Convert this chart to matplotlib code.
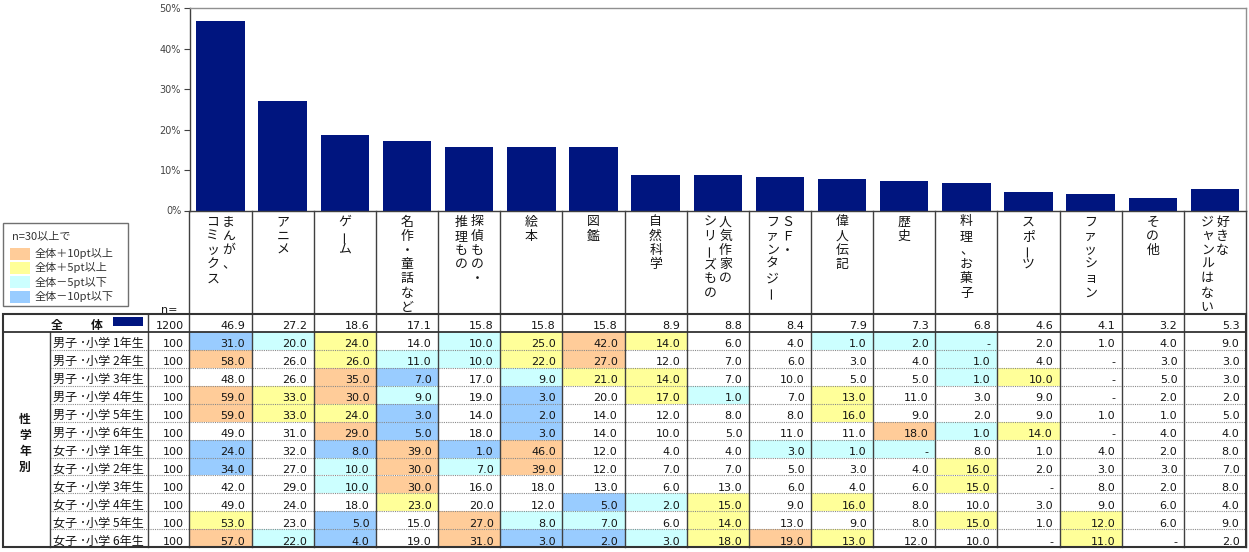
import matplotlib.pyplot as plt
from matplotlib.patches import Rectangle
import numpy as np

plt.rcParams['font.family'] = ['Noto Sans CJK JP', 'DejaVu Sans']

# genre headers, written vertically; first line is the rightmost one
genres = [['まんが、', 'コミックス'], ['アニメ'], ['ゲーム'], ['名作・童話など'],
          ['探偵もの・', '推理もの'], ['絵本'], ['図鑑'], ['自然科学'],
          ['人気作家の', 'シリーズもの'], ['ＳＦ・', 'ファンタジー'], ['偉人伝記'],
          ['歴史'], ['料理、お菓子'], ['スポーツ'], ['ファッション'], ['その他'],
          ['好きな', 'ジャンルはない']]

total = [46.9, 27.2, 18.6, 17.1, 15.8, 15.8, 15.8, 8.9, 8.8, 8.4, 7.9, 7.3, 6.8, 4.6, 4.1, 3.2, 5.3]
n_total = 1200

group_labels = ['男子 ･小学 1年生', '男子 ･小学 2年生', '男子 ･小学 3年生', '男子 ･小学 4年生',
                '男子 ･小学 5年生', '男子 ･小学 6年生', '女子 ･小学 1年生', '女子 ･小学 2年生',
                '女子 ･小学 3年生', '女子 ･小学 4年生', '女子 ･小学 5年生', '女子 ･小学 6年生']
group_n = [100, 100, 100, 100, 100, 100, 100, 100, 100, 100, 100, 100]

# None = "-"
boys1 = [31.0, 20.0, 24.0, 14.0, 10.0, 25.0, 42.0, 14.0, 6.0, 4.0, 1.0, 2.0, None, 2.0, 1.0, 4.0, 9.0]
boys2 = [58.0, 26.0, 26.0, 11.0, 10.0, 22.0, 27.0, 12.0, 7.0, 6.0, 3.0, 4.0, 1.0, 4.0, None, 3.0, 3.0]
boys3 = [48.0, 26.0, 35.0, 7.0, 17.0, 9.0, 21.0, 14.0, 7.0, 10.0, 5.0, 5.0, 1.0, 10.0, None, 5.0, 3.0]
boys4 = [59.0, 33.0, 30.0, 9.0, 19.0, 3.0, 20.0, 17.0, 1.0, 7.0, 13.0, 11.0, 3.0, 9.0, None, 2.0, 2.0]
boys5 = [59.0, 33.0, 24.0, 3.0, 14.0, 2.0, 14.0, 12.0, 8.0, 8.0, 16.0, 9.0, 2.0, 9.0, 1.0, 1.0, 5.0]
boys6 = [49.0, 31.0, 29.0, 5.0, 18.0, 3.0, 14.0, 10.0, 5.0, 11.0, 11.0, 18.0, 1.0, 14.0, None, 4.0, 4.0]
girls1 = [24.0, 32.0, 8.0, 39.0, 1.0, 46.0, 12.0, 4.0, 4.0, 3.0, 1.0, None, 8.0, 1.0, 4.0, 2.0, 8.0]
girls2 = [34.0, 27.0, 10.0, 30.0, 7.0, 39.0, 12.0, 7.0, 7.0, 5.0, 3.0, 4.0, 16.0, 2.0, 3.0, 3.0, 7.0]
girls3 = [42.0, 29.0, 10.0, 30.0, 16.0, 18.0, 13.0, 6.0, 13.0, 6.0, 4.0, 6.0, 15.0, None, 8.0, 2.0, 8.0]
girls4 = [49.0, 24.0, 18.0, 23.0, 20.0, 12.0, 5.0, 2.0, 15.0, 9.0, 16.0, 8.0, 10.0, 3.0, 9.0, 6.0, 4.0]
girls5 = [53.0, 23.0, 5.0, 15.0, 27.0, 8.0, 7.0, 6.0, 14.0, 13.0, 9.0, 8.0, 15.0, 1.0, 12.0, 6.0, 9.0]
girls6 = [57.0, 22.0, 4.0, 19.0, 31.0, 3.0, 2.0, 3.0, 18.0, 19.0, 13.0, 12.0, 10.0, None, 11.0, None, 2.0]
rows = [boys1, boys2, boys3, boys4, boys5, boys6, girls1, girls2, girls3, girls4, girls5, girls6]

legend_labels = ['全体＋10pt以上', '全体＋5pt以上', '全体－5pt以下', '全体－10pt以下']
legend_colors = ['#FFCC99', '#FFFF99', '#CCFFFF', '#99CCFF']
bar_color = '#00157F'
line_color = '#404040'
text_color = '#151515'
num_font = 'DejaVu Sans'

W, H = 1249, 552


def cell_color(v, base, n):
    if n < 30:
        return None
    d = round((v or 0.0) - base, 1)
    if d >= 10:
        return legend_colors[0]
    if d >= 5:
        return legend_colors[1]
    if d <= -10:
        return legend_colors[3]
    if d <= -5:
        return legend_colors[2]
    return None


fig = plt.figure(figsize=(W / 100, H / 100), dpi=100)
tab = fig.add_axes([0, 0, 1, 1], zorder=0)
tab.set_xlim(0, W)
tab.set_ylim(H, 0)
tab.axis('off')

# bar chart
x_left, x_right = 189.5, 1246
y_top, y_base = 8.3, 210.5
ax = fig.add_axes([x_left / W, (H - y_base) / H, (x_right - x_left) / W, (y_base - y_top) / H], zorder=1)
ax.bar(np.arange(len(total)), total, width=0.78, color=bar_color)
ax.set_xlim(-0.5, len(total) - 0.5)
ax.set_ylim(0, 50)
ax.set_yticks(range(0, 51, 10))
ax.set_yticklabels([f'{t}%' for t in range(0, 51, 10)], fontsize=7, color='#444444',
                   family='DejaVu Sans')
ax.tick_params(axis='y', length=4, width=0.8, color=line_color, pad=2)
ax.set_xticks([])
ax.set_facecolor('none')
for s in ['left', 'bottom']:
    ax.spines[s].set_color(line_color)
    ax.spines[s].set_linewidth(1.0)
for s in ['top', 'right']:
    ax.spines[s].set_color('#909090')
    ax.spines[s].set_linewidth(1.0)

# table geometry
x_edges = np.linspace(x_left, x_right, len(total) + 1)
tot_top, tot_bot = 314.0, 331.9
row_h = 17.95
row_tops = [tot_bot + i * row_h for i in range(len(rows))]
table_bot = tot_bot + len(rows) * row_h

# header with vertical text
for j, lines in enumerate(genres):
    cx = (x_edges[j] + x_edges[j + 1]) / 2
    nl = len(lines)
    for i, line in enumerate(lines):
        x = cx + (nl - 1) / 2 * 15.5 - i * 15.5
        for k, ch in enumerate(line):
            rot = 90 if ch == 'ー' else 0
            tab.text(x, 222 + k * 14.2, ch, ha='center', va='center', fontsize=9.3,
                     rotation=rot, color=text_color)

tab.text(161, 313, 'n=', fontsize=8, ha='left', va='baseline', color=text_color, family=num_font)

# total row
tab.text(57, tot_bot - 2.5, '全', fontsize=8.5, ha='center', va='baseline', color=text_color, weight='bold')
tab.text(97, tot_bot - 2.5, '体', fontsize=8.5, ha='center', va='baseline', color=text_color, weight='bold')
tab.add_patch(Rectangle((113, 316.7), 30, 9.5, facecolor=bar_color, edgecolor='none'))
tab.text(x_left - 6, tot_bot - 2.5, str(n_total), fontsize=8, ha='right', va='baseline',
         color=text_color, family=num_font)
for j, v in enumerate(total):
    tab.text(x_edges[j + 1] - 6.5, tot_bot - 2.5, f'{v:.1f}', fontsize=8, ha='right',
             va='baseline', color=text_color, family=num_font)

# group rows
for i, (lab, n, vals) in enumerate(zip(group_labels, group_n, rows)):
    top = row_tops[i]
    bot = top + row_h
    tab.text(53, bot - 2.5, lab, fontsize=8.7, ha='left', va='baseline', color=text_color)
    tab.text(x_left - 6, bot - 2.5, str(n), fontsize=8, ha='right', va='baseline',
             color=text_color, family=num_font)
    for j, v in enumerate(vals):
        c = cell_color(v, total[j], n)
        if c:
            tab.add_patch(Rectangle((x_edges[j], top), x_edges[j + 1] - x_edges[j], row_h,
                                    facecolor=c, edgecolor='none', zorder=0.5))
        s = '-' if v is None else f'{v:.1f}'
        tab.text(x_edges[j + 1] - 6.5, bot - 2.5, s, fontsize=8, ha='right', va='baseline',
                 color=text_color, family=num_font)
    if i < len(rows) - 1:
        tab.plot([50, x_right], [bot, bot], ls=(0, (1, 1)), color='#8a8a8a', lw=0.8)

# row group label
for k, ch in enumerate('性学年別'):
    tab.text(25, 419 + k * 16, ch, fontsize=8.5, ha='center', va='center', color=text_color,
             weight='bold')

# grid lines
for xe in x_edges[1:-1]:
    tab.plot([xe, xe], [y_base, table_bot], color=line_color, lw=1.0)
tab.plot([x_left, x_left], [y_base, table_bot], color=line_color, lw=1.0)
tab.plot([x_right, x_right], [y_base, table_bot], color=line_color, lw=1.0)
tab.plot([148, 148], [tot_top, table_bot], color=line_color, lw=1.0)
tab.plot([50, 50], [tot_bot, table_bot], color=line_color, lw=1.0)
tab.plot([3, x_right], [tot_bot, tot_bot], color='#333333', lw=1.3)
tab.add_patch(Rectangle((3, tot_top), x_right - 3, table_bot - tot_top, fill=False,
                        edgecolor='#333333', lw=1.5, zorder=3))

# colour legend
tab.add_patch(Rectangle((3.3, 223.3), 125, 82.7, fill=False, edgecolor='#707070', lw=1.0))
tab.text(12, 236, 'n=30以上で', fontsize=8, ha='left', va='center', color='#333333')
for k, (lab, c) in enumerate(zip(legend_labels, legend_colors)):
    yc = 253.5 + k * 14.4
    tab.add_patch(Rectangle((10, yc - 6), 20, 12, facecolor=c, edgecolor='none'))
    tab.text(35, yc, lab, fontsize=8, ha='left', va='center', color='#333333')

fig.savefig('out.png', dpi=100)
